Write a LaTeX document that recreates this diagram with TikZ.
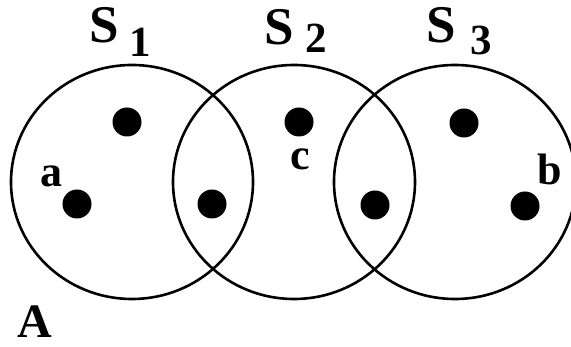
\documentclass[tikz,border=0pt]{standalone}
\usepackage{fontspec}
\setmainfont{Liberation Serif}
\usepackage{tikz}
\usetikzlibrary{shapes.geometric, positioning}

\begin{document}
\begin{tikzpicture}[x=1pt, y=1pt,
    setring/.style={ellipse, draw=black, line width=2.6pt, inner sep=0pt,
                    minimum width=242pt, minimum height=234pt},
    elem/.style={circle, fill=black, inner sep=0pt, minimum size=29pt},
    setname/.style={anchor=base, inner sep=0pt, font=\fontsize{53}{53}\selectfont\bfseries},
    setsub/.style={anchor=base, inner sep=0pt, font=\fontsize{43}{43}\selectfont\bfseries},
    elemlabel/.style={anchor=base, inner sep=0pt, font=\fontsize{44}{44}\selectfont\bfseries}]
    \useasboundingbox (0,0) rectangle (571,347);

    % the three sets
    \node[setring] (ring1) at (132,165) {};
    \node[setring] (ring2) at (294,165) {};
    \node[setring] (ring3) at (455,165) {};

    % set names
    \node[setname] (name1) at (104,304) {S};
    \node[setsub]  (sub1)  at (140,290) {1};
    \node[setname] (name2) at (279,302) {S};
    \node[setsub]  (sub2)  at (316,294) {2};
    \node[setname] (name3) at (441,304) {S};
    \node[setsub]  (sub3)  at (481,292) {3};

    % elements
    \node[elem] (e1) at (127,225) {};
    \node[elem] (ea) at (77,143) {};
    \node[elem] (e12) at (212,143) {};
    \node[elem] (ec) at (299,225) {};
    \node[elem] (e23) at (375,142) {};
    \node[elem] (e3) at (464,224) {};
    \node[elem] (eb) at (525,141) {};

    % element labels
    \node[elemlabel] (lbla) at (52,160) {a};
    \node[elemlabel] (lblc) at (300,177) {c};
    \node[elemlabel] (lblb) at (550,162) {b};

    \node[anchor=base, inner sep=0pt, font=\fontsize{48}{48}\selectfont\bfseries] (universe) at (35,9) {A};
\end{tikzpicture}
\end{document}
